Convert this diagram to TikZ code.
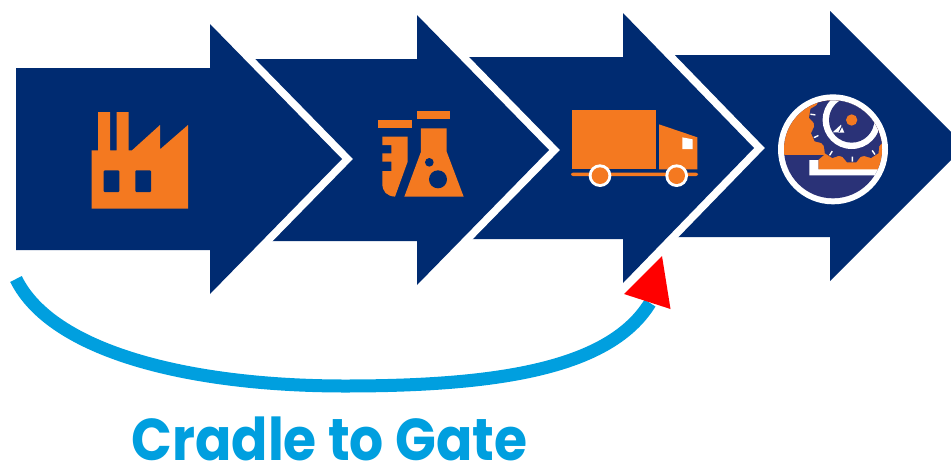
\documentclass[tikz,border=0pt]{standalone}
\usepackage{fontspec}
\setmainfont{Poppins}
\definecolor{navy}{HTML}{002B71}
\definecolor{inknavy}{HTML}{2A3277}
\definecolor{orng}{HTML}{F47920}
\definecolor{skyb}{HTML}{009FDF}
\tikzset{
  bigarrow/.style={fill=navy,draw=none},
  halo/.style={draw=white,line width=15.5pt,line join=miter,miter limit=10},
  ico/.style={fill=orng,draw=none},
  icohole/.style={fill=navy,draw=none},
  zoomA/.style={shift={(70,90)},scale=1/3},
  zoomB/.style={shift={(550,80)},scale=1/3},
  zoomC/.style={shift={(770,90)},scale=1/3},
}
% x-left, shaft top y, head x, tip depth
\newcommand{\bigarr}[4]{%
  \path[halo] (#1,#2) -- (#3,#2) -- (#3,#2-44) -- (#3+#4,#2+91) -- (#3,#2+226) -- (#3,#2+182) -- (#1,#2+182) -- cycle;
  \path[bigarrow] (#1,#2) -- (#3,#2) -- (#3,#2-44) -- (#3+#4,#2+91) -- (#3,#2+226) -- (#3,#2+182) -- (#1,#2+182) -- cycle;
}
\begin{document}
\begin{tikzpicture}[x=1pt,y=-1pt]
\useasboundingbox (0,0) rectangle (951,464);
\begin{scope}
\clip (0,0) rectangle (951,464);
\bigarr{655}{55}{830}{135}
\bigarr{450}{57}{623}{131}
\bigarr{243}{59}{417}{132}
\bigarr{16}{68}{210}{132}
\end{scope}
% factory
\begin{scope}[zoomA]
\fill[ico] (65,356) -- (65,181) -- (84,181) -- (84,66) -- (120,66) -- (120,181) -- (140,181) -- (140,66) -- (176,66) -- (176,181) -- (186,181) -- (270,105) -- (270,178) -- (354,105) -- (354,356) -- cycle;
\fill[icohole,rounded corners=1pt] (101,241) rectangle (148,306);
\fill[icohole,rounded corners=1pt] (196,241) rectangle (243,306);
% flasks
\fill[ico] (925,89) rectangle (1026,113);
\fill[ico] (1040,63) rectangle (1141,87);
\fill[ico] (937,140) -- (1013,140) -- (1013,215) -- (975,320) .. controls (950,318) and (937,305) .. (937,280) -- (937,243) -- (964,243) -- (964,215) -- (937,215) -- (937,190) -- (964,190) -- (964,165) -- (937,165) -- cycle;
\fill[ico] (1053,115) -- (1130,115) -- (1130,185) -- (1181,320) -- (1003,320) -- (1053,185) -- cycle;
\fill[icohole] (1078,217) circle (13);
\fill[icohole] (1104,268) circle (27);
\end{scope}
% truck
\begin{scope}[zoomB]
\fill[ico] (65,90) rectangle (317,268);
\fill[ico] (327,133) -- (442,172) -- (442,268) -- (327,268) -- cycle;
\fill[white] (397,172) -- (428,178) -- (428,207) -- (397,207) -- cycle;
\fill[ico,rounded corners=2pt] (63,278) rectangle (444,288);
\begin{scope}
\clip (40,250) rectangle (460,320);
\foreach \wx in {150,380}{
  \fill[white] (\wx,287) circle (34);
  \fill[ico] (\wx,287) circle (25);
}
\end{scope}
\end{scope}
% saw badge
\begin{scope}[zoomC]
\fill[white] (189,178) circle (165);
\begin{scope}
\clip (189,178) circle (147);
\fill[inknavy] (30,20) rectangle (345,340);
\fill[orng] (30,20) rectangle (345,195);
\fill[orng] (168,190) -- (145,210) -- (145,240) -- (345,240) -- (345,190) -- cycle;
\fill[white] (118,210) -- (118,256) -- (345,256) -- (345,238) -- (145,238) -- (145,210) -- cycle;
\begin{scope}[shift={(245,90)}]
\fill[inknavy] (0,0) circle (114);
\foreach \a in {-10,23,...,210}{
  \fill[inknavy] (\a-15:110) -- (\a-5:128) -- (\a+7:128) -- (\a+18:110) -- cycle;
  \draw[white,line width=1.4pt] (\a:110) -- (\a:125);
}
\fill[white] (0,0) circle (87);
\fill[inknavy] (0,0) circle (68);
\fill[orng] (0,0) circle (17);
\fill[white] (-57,37) -- (-32,14) -- (-22,38) -- cycle;
\draw[inknavy,line width=0.9pt] (-38,36) -- (-27,14);
\end{scope}
\end{scope}
\end{scope}
% bracket
\coordinate (cradle) at (16,279);
\coordinate (gate) at (650,303);
\coordinate (low) at (345,386);
\draw[skyb,line width=13pt] (cradle) .. controls (52,352) and (190,386) .. (low) .. controls (500,386) and (610,368) .. (gate);
\coordinate (tip) at (662,256);
\coordinate (tl) at (624,294);
\coordinate (tr) at (670.5,309);
\fill[red] (tip) -- (tl) -- (tr) -- cycle;
\node[text=skyb,inner sep=0pt,anchor=base] (lab) at (329.5,460) {\scalebox{0.908}[1]{\fontsize{59}{59}\selectfont\bfseries Cradle to Gate}};
\end{tikzpicture}
\end{document}
